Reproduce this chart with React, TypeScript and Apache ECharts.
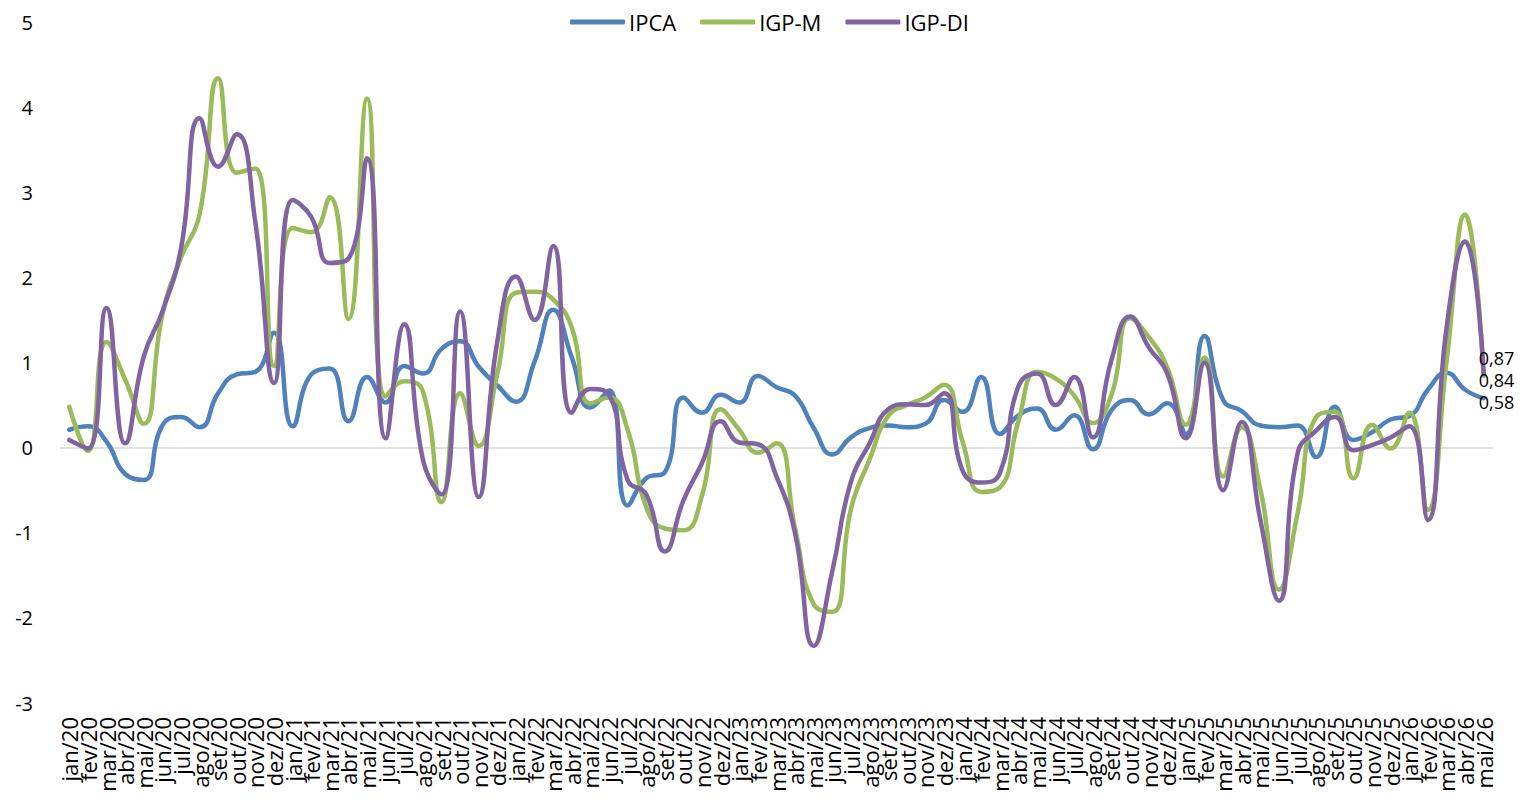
import React, { useEffect, useRef } from "react";
import * as echarts from "echarts";

const monthNames = ["jan", "fev", "mar", "abr", "mai", "jun", "jul", "ago", "set", "out", "nov", "dez"];
const years = ["20", "21", "22", "23", "24", "25", "26"];
const lastYearMonths = 5;

const categories: string[] = [];
years.forEach((y, yi) => {
  const n = yi === years.length - 1 ? lastYearMonths : 12;
  for (let m = 0; m < n; m++) categories.push(`${monthNames[m]}/${y}`);
});

const ipca = [
  0.21, 0.25, 0.07, -0.31, -0.38, 0.26, 0.36, 0.24, 0.64, 0.86, 0.89, 1.35,
  0.25, 0.86, 0.93, 0.31, 0.83, 0.53, 0.96, 0.87, 1.16, 1.25, 0.95, 0.73,
  0.54, 1.01, 1.62, 1.06, 0.47, 0.67, -0.68, -0.36, -0.29, 0.59, 0.41, 0.62,
  0.53, 0.84, 0.71, 0.61, 0.23, -0.08, 0.12, 0.23, 0.26, 0.24, 0.28, 0.56,
  0.42, 0.83, 0.16, 0.38, 0.46, 0.21, 0.38, -0.02, 0.44, 0.56, 0.39, 0.52,
  0.16, 1.31, 0.56, 0.43, 0.26, 0.24, 0.26, -0.11, 0.48, 0.09, 0.18, 0.33,
  0.37, 0.68, 0.88, 0.68, 0.58,
];

const igpm = [
  0.48, -0.04, 1.24, 0.8, 0.28, 1.56, 2.23, 2.74, 4.34, 3.23, 3.28, 0.96,
  2.58, 2.53, 2.94, 1.51, 4.1, 0.6, 0.78, 0.66, -0.64, 0.64, 0.02, 0.87,
  1.82, 1.83, 1.74, 1.41, 0.52, 0.59, 0.21, -0.7, -0.95, -0.97, -0.56, 0.45,
  0.21, -0.06, 0.05, -0.95, -1.84, -1.93, -0.72, -0.14, 0.37, 0.5, 0.59, 0.74,
  0.07, -0.52, -0.47, 0.31, 0.89, 0.81, 0.61, 0.29, 0.62, 1.52, 1.3, 0.94,
  0.27, 1.06, -0.34, 0.24, -0.49, -1.67, -0.77, 0.36, 0.42, -0.36, 0.27, -0.01,
  0.41, -0.73, 1.0, 2.74, 0.84,
];

const igpdi = [
  0.09, -0.01, 1.64, 0.05, 1.07, 1.6, 2.34, 3.87, 3.3, 3.68, 2.64, 0.76,
  2.91, 2.71, 2.17, 2.22, 3.4, 0.11, 1.45, -0.14, -0.55, 1.6, -0.58, 1.25,
  2.01, 1.5, 2.37, 0.41, 0.69, 0.62, -0.38, -0.55, -1.22, -0.62, -0.18, 0.31,
  0.06, 0.04, -0.34, -1.01, -2.33, -1.45, -0.4, 0.05, 0.45, 0.51, 0.5, 0.64,
  -0.27, -0.41, -0.3, 0.72, 0.87, 0.5, 0.83, 0.12, 1.03, 1.54, 1.18, 0.87,
  0.11, 1.0, -0.5, 0.3, -0.85, -1.8, -0.07, 0.2, 0.36, -0.03, 0.03, 0.12,
  0.25, -0.85, 1.4, 2.42, 0.87,
];

const yTicks = [-3, -2, -1, 0, 1, 2, 3, 4, 5];

const FONT = "'Open Sans', 'Noto Sans', sans-serif";

export default function App() {
  const ref = useRef<HTMLDivElement>(null);

  useEffect(() => {
    if (!ref.current) return;
    const chart = echarts.init(ref.current, undefined, { renderer: "svg" });
    const fmt = (p: any) => String(p.value).replace(".", ",");
    const mk = (name: string, data: number[], color: string, dy: number) => ({
      name,
      type: "line",
      data,
      smooth: 0.5,
      symbol: "none",
      showSymbol: false,
      lineStyle: { color, width: 4.5, cap: "round", join: "round" },
      itemStyle: { color },
      endLabel: {
        show: true,
        formatter: fmt,
        distance: 0,
        offset: [-5, dy],
        fontSize: 18,
        lineHeight: 18,
        fontFamily: FONT,
        color: "#000",
      },
    });
    chart.setOption({
      animation: false,
      backgroundColor: "#fff",
      textStyle: { fontFamily: FONT },
      legend: {
        top: 6,
        left: 565,
        itemWidth: 55,
        itemHeight: 5,
        itemGap: 24,
        icon: "roundRect",
        textStyle: { fontSize: 22, color: "#000", fontFamily: FONT, padding: [0, 0, 0, -1] },
        data: ["IPCA", "IGP-M", "IGP-DI"],
      },
      grid: { left: 60, right: 41, top: 22, bottom: 97, containLabel: false },
      xAxis: {
        type: "category",
        data: categories,
        boundaryGap: true,
        axisLine: { show: false, onZero: false },
        axisTick: { show: false },
        axisLabel: {
          interval: 0,
          rotate: 90,
          fontSize: 22,
          color: "#000",
          fontFamily: FONT,
          margin: 14,
        },
        splitLine: { show: false },
      },
      yAxis: {
        type: "value",
        min: yTicks[0],
        max: yTicks[yTicks.length - 1],
        interval: 1,
        axisLine: { show: false },
        axisTick: { show: false },
        axisLabel: { fontSize: 20, color: "#000", fontFamily: FONT, margin: 27 },
        splitLine: {
          show: true,
          lineStyle: {
            width: 1.5,
            color: yTicks.map((t) => (t === 0 ? "#d9d9d9" : "rgba(0,0,0,0)")),
          },
        },
      },
      series: [
        mk("IPCA", ipca, "#4F81BD", 3.7),
        mk("IGP-M", igpm, "#9BBB59", 3.8),
        mk("IGP-DI", igpdi, "#8064A2", -15.6),
      ],
    });
    return () => chart.dispose();
  }, []);

  return (
    <div
      ref={ref}
      style={{ position: "fixed", left: 0, top: 0, width: 1534, height: 800, background: "#fff" }}
    />
  );
}
